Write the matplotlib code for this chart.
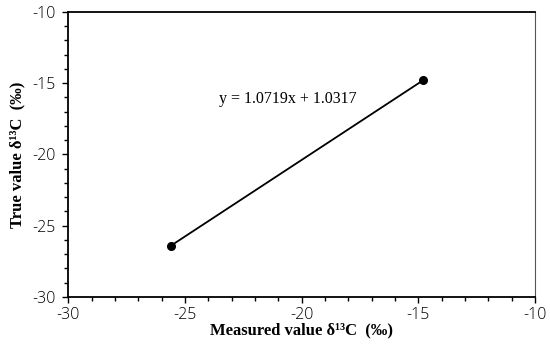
import matplotlib
matplotlib.use("Agg")
import matplotlib.pyplot as plt
from matplotlib.ticker import MultipleLocator

plt.rcParams["axes.unicode_minus"] = False

measured = [-25.6, -14.8]
true_vals = [-26.4, -14.8]
equation = "y = 1.0719x + 1.0317"

fig = plt.figure(figsize=(5.5, 3.49), dpi=100)
ax = fig.add_axes([0.124, 0.149, 0.849, 0.817])

ax.plot(measured, true_vals, color="black", lw=1.3, marker="o", markersize=5.5)

ax.set_xlim(-30, -10)
ax.set_ylim(-30, -10)
ax.xaxis.set_major_locator(MultipleLocator(5))
ax.yaxis.set_major_locator(MultipleLocator(5))
ax.xaxis.set_minor_locator(MultipleLocator(1))
ax.yaxis.set_minor_locator(MultipleLocator(1))
ax.tick_params(which="major", direction="out", length=4, width=1, labelsize=11.5, colors="black")
ax.tick_params(which="minor", direction="out", length=3, width=1)
ax.tick_params(axis="y", pad=5)
for lbl in ax.get_xticklabels() + ax.get_yticklabels():
    lbl.set_family("Open Sans")
    lbl.set_fontweight("light")

for s in ax.spines.values():
    s.set_linewidth(1.3)
ax.spines["right"].set_color("#555555")
ax.spines["right"].set_linewidth(0.8)

ax.text(-20.6, -16.1, equation, ha="center", va="center",
        fontsize=11.5, family="Liberation Serif")

ax.set_xlabel("Measured value δ¹³C  (‰)", fontsize=12, fontweight="bold",
              family="Liberation Serif", labelpad=-1)
ax.set_ylabel("True value δ¹³C  (‰)", fontsize=12, fontweight="bold",
              family="Liberation Serif", labelpad=5)

fig.savefig("out.png", dpi=100)
